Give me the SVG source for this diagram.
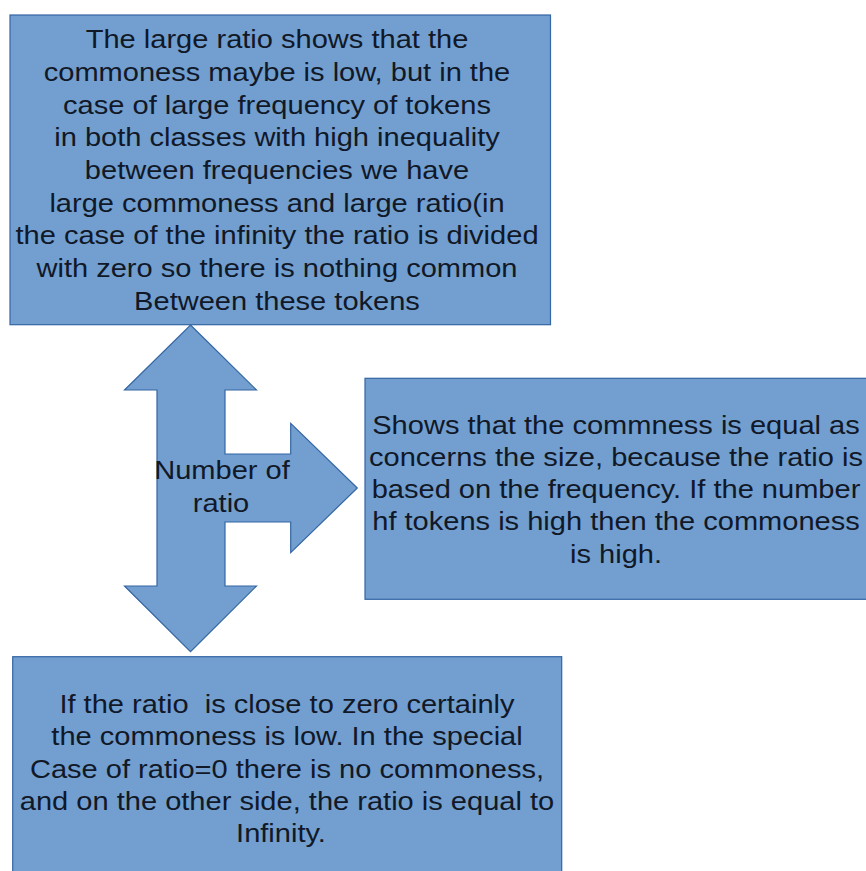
<svg xmlns="http://www.w3.org/2000/svg" width="866" height="871" viewBox="0 0 866 871">
  <style>
    .box { fill: #729fcf; stroke: #3465a4; stroke-width: 1.2; }
    .lbl { font-family: "Liberation Sans", Arial, sans-serif; font-size: 25px; fill: #111827; text-anchor: middle; white-space: pre; }
  </style>
  <rect width="866" height="871" fill="#ffffff"/>

  <g id="connectors">
    <!-- three-way arrow: up, down and right -->
    <polygon class="box" points="190.5,325 256.5,390 225,390 225,454 290.7,454 290.7,423.3 357.3,488 290.7,552.7 290.7,522 225,522 225,586 256.5,586 190.5,651.7 124.5,586 157,586 157,390 124.5,390"/>
    <text class="lbl" transform="translate(222,479.3) scale(1.162,1)">Number of</text>
    <text class="lbl" transform="translate(221,511.7) scale(1.162,1)">ratio</text>
  </g>

  <g id="node-top">
    <rect class="box" x="10" y="15" width="540.5" height="309.7"/>
    <text class="lbl" transform="translate(277,48.3) scale(1.162,1)">The large ratio shows that the</text>
    <text class="lbl" transform="translate(277,81) scale(1.162,1)">commoness maybe is low, but in the</text>
    <text class="lbl" transform="translate(277,113.6) scale(1.162,1)">case of large frequency of tokens</text>
    <text class="lbl" transform="translate(277,146.3) scale(1.162,1)">in both classes with high inequality</text>
    <text class="lbl" transform="translate(277,179) scale(1.162,1)">between frequencies we have</text>
    <text class="lbl" transform="translate(277,211.6) scale(1.162,1)">large commoness and large ratio(in</text>
    <text class="lbl" transform="translate(277,244.3) scale(1.162,1)">the case of the infinity the ratio is divided</text>
    <text class="lbl" transform="translate(277,277) scale(1.162,1)">with zero so there is nothing common</text>
    <text class="lbl" transform="translate(277,309.6) scale(1.162,1)">Between these tokens</text>
  </g>

  <g id="node-right">
    <rect class="box" x="365" y="378.3" width="520" height="221"/>
    <text class="lbl" transform="translate(616,433.5) scale(1.162,1)">Shows that the commness is equal as</text>
    <text class="lbl" transform="translate(616,465.8) scale(1.162,1)">concerns the size, because the ratio is</text>
    <text class="lbl" transform="translate(616,498.1) scale(1.162,1)">based on the frequency. If the number</text>
    <text class="lbl" transform="translate(616,530.4) scale(1.162,1)">hf tokens is high then the commoness</text>
    <text class="lbl" transform="translate(616,562.7) scale(1.162,1)">is high.</text>
  </g>

  <g id="node-bottom">
    <rect class="box" x="12.7" y="656.7" width="549" height="230"/>
    <text class="lbl" transform="translate(287,712.7) scale(1.162,1)">If the ratio  is close to zero certainly</text>
    <text class="lbl" transform="translate(287,745.1) scale(1.162,1)">the commoness is low. In the special</text>
    <text class="lbl" transform="translate(287,777.5) scale(1.162,1)">Case of ratio=0 there is no commoness,</text>
    <text class="lbl" transform="translate(287,809.9) scale(1.162,1)">and on the other side, the ratio is equal to</text>
    <text class="lbl" transform="translate(281,842.3) scale(1.162,1)">Infinity.</text>
  </g>
</svg>
